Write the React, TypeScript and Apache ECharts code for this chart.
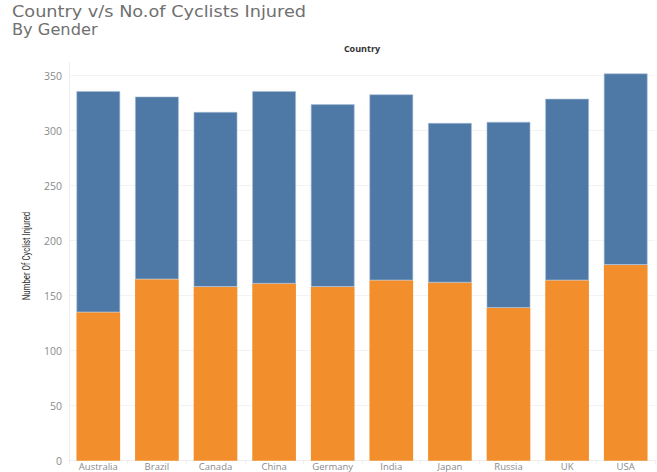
import React, { useEffect, useRef } from "react";
import * as echarts from "echarts";

const categories = ["Australia", "Brazil", "Canada", "China", "Germany", "India", "Japan", "Russia", "UK", "USA"];
const orangeValues = [135, 165, 158, 161, 158, 164, 162, 139, 164, 178];
const blueValues = [201, 166, 159, 175, 166, 169, 145, 169, 165, 174];
const yTickMax = 362;

export default function App() {
  const ref = useRef<HTMLDivElement>(null);
  useEffect(() => {
    if (!ref.current) return;
    const chart = echarts.init(ref.current, null, { renderer: "svg" });
    chart.setOption({
      animation: false,
      backgroundColor: "#ffffff",
      graphic: [
        {
          type: "text",
          x: 12,
          y: 4.5,
          scaleX: 1.18,
          style: {
            text: "Country v/s No.of Cyclists Injured",
            fontFamily: "DejaVu Sans",
            fontSize: 15,
            fill: "#707070",
          },
        },
        {
          type: "text",
          x: 12,
          y: 22.5,
          scaleX: 1.08,
          style: {
            text: "By Gender",
            fontFamily: "DejaVu Sans",
            fontSize: 15,
            fill: "#707070",
          },
        },
        {
          type: "text",
          x: 362,
          y: 48,
          style: {
            text: "Country",
            fontFamily: "Open Sans",
            fontSize: 9,
            fontWeight: "bold",
            fill: "#333333",
            textAlign: "center",
            textVerticalAlign: "middle",
          },
        },
        {
          type: "text",
          x: 27,
          y: 256,
          rotation: Math.PI / 2,
          scaleX: 0.78,
          style: {
            text: "Number Of Cyclist Injured",
            fontFamily: "Roboto",
            fontSize: 10,
            fill: "#333333",
            textAlign: "center",
            textVerticalAlign: "middle",
          },
        },
      ],
      grid: { left: 69, right: 2, top: 62.5, bottom: 11.3, containLabel: false },
      xAxis: {
        type: "category",
        data: categories,
        axisLine: { show: true, lineStyle: { color: "#eeeeee" } },
        axisTick: { show: true, lineStyle: { color: "#eeeeee" }, length: 3 },
        axisLabel: {
          margin: 1,
          fontFamily: "Open Sans",
          fontSize: 9.5,
          lineHeight: 10,
          color: "#8a8a8a",
        },
      },
      yAxis: {
        type: "value",
        min: 0,
        max: yTickMax,
        interval: 50,
        axisLine: { show: true, lineStyle: { color: "#eeeeee" } },
        axisTick: { show: false },
        splitLine: { show: true, showMaxLine: false, lineStyle: { color: "#f3f3f3" } },
        axisLabel: {
          showMaxLabel: false,
          margin: 7,
          fontFamily: "Open Sans",
          fontSize: 10.5,
          color: "#8a8a8a",
        },
      },
      series: [
        {
          name: "Orange",
          type: "bar",
          stack: "total",
          data: orangeValues,
          barWidth: "74.5%",
          itemStyle: { color: "#f28e2b" },
        },
        {
          name: "Blue",
          type: "bar",
          stack: "total",
          data: blueValues,
          barWidth: "74.5%",
          itemStyle: { color: "#4e79a7", borderColor: "#a8bdd4", borderWidth: 0.6 },
        },
      ],
    });
    return () => chart.dispose();
  }, []);
  return (
    <div
      ref={ref}
      style={{ position: "fixed", left: 0, top: 0, width: 657, height: 472 }}
    />
  );
}
